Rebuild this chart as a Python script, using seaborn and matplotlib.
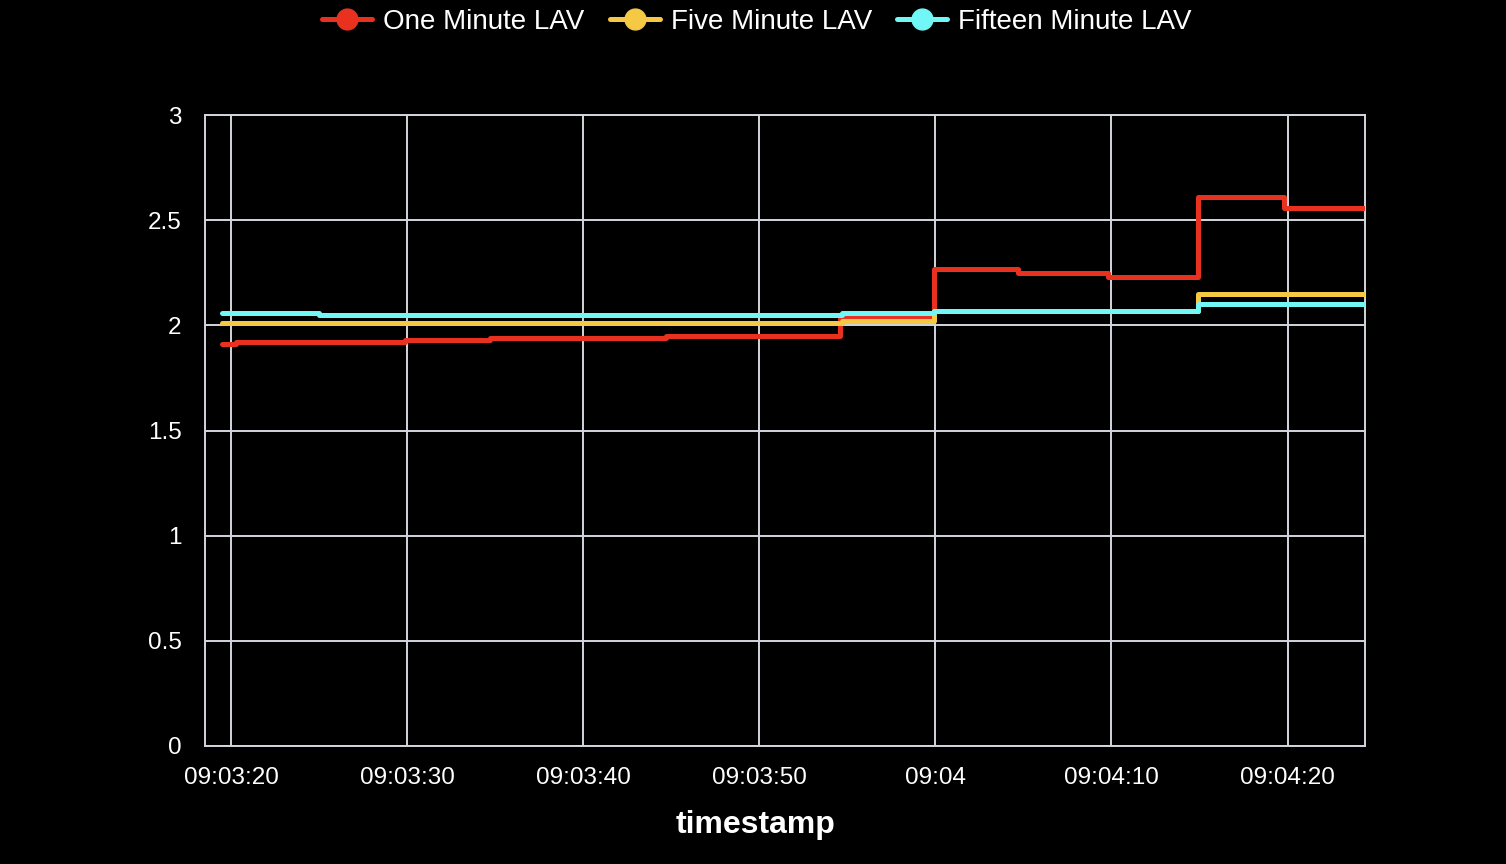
import pandas as pd
import numpy as np
import matplotlib
matplotlib.use("Agg")
import matplotlib.pyplot as plt
import matplotlib.dates as mdates
from matplotlib.lines import Line2D
import seaborn as sns

# readings: seconds after 09:03:00 where the value changes, and the value
one_t = [19.5, 20.3, 29.9, 34.7, 44.7, 54.6, 59.9, 64.7, 69.8, 74.9, 79.8, 84.5]
one_v = [1.91, 1.92, 1.93, 1.94, 1.95, 2.04, 2.27, 2.25, 2.23, 2.61, 2.56, 2.56]
five_t = [19.5, 54.7, 59.9, 74.9, 84.5]
five_v = [2.01, 2.02, 2.07, 2.15, 2.15]
fifteen_t = [19.5, 25.0, 54.7, 59.9, 74.9, 84.5]
fifteen_v = [2.06, 2.05, 2.06, 2.07, 2.10, 2.10]

names = ["One Minute LAV", "Five Minute LAV", "Fifteen Minute LAV"]
colors = ["#e8321f", "#f6c945", "#72f7f7"]

base = pd.Timestamp("2024-01-01 09:03:00")
rows = []
for name, ts, vs in zip(names, [one_t, five_t, fifteen_t], [one_v, five_v, fifteen_v]):
    for t, v in zip(ts, vs):
        rows.append({"timestamp": base + pd.Timedelta(seconds=t), "value": v, "series": name})
df = pd.DataFrame(rows)

sns.set_style("dark")
plt.rcParams["font.family"] = ["Liberation Sans", "DejaVu Sans"]

fig = plt.figure(figsize=(15.06, 8.64), dpi=100, facecolor="black")
ax = fig.add_axes([205 / 1506, 118 / 864, 1160 / 1506, 631 / 864])
ax.set_facecolor("black")

sns.lineplot(data=df, x="timestamp", y="value", hue="series", palette=colors,
             hue_order=names, drawstyle="steps-post", linewidth=3.6,
             solid_joinstyle="round", solid_capstyle="round", legend=False, ax=ax, zorder=3)

gridc = "#d4d6de"
ax.set_xlim(base + pd.Timedelta(seconds=18.52), base + pd.Timedelta(seconds=84.4))
ax.set_ylim(0, 3)
ax.set_yticks([0, 0.5, 1, 1.5, 2, 2.5, 3])
ax.set_yticklabels(["0", "0.5", "1", "1.5", "2", "2.5", "3"])
ax.xaxis.set_major_locator(mdates.SecondLocator(bysecond=[0, 10, 20, 30, 40, 50]))


def fmt(x, pos=None):
    d = mdates.num2date(x)
    return d.strftime("%H:%M") if d.second == 0 else d.strftime("%H:%M:%S")


ax.xaxis.set_major_formatter(plt.FuncFormatter(fmt))
ax.grid(True, color=gridc, linewidth=1.4)
for s in ax.spines.values():
    s.set_color(gridc)
    s.set_linewidth(1.4)
ax.tick_params(axis="x", colors=gridc, length=8, width=1.4, labelcolor="white",
               labelsize=17.5, pad=7)
ax.tick_params(axis="y", length=0, labelcolor="white", labelsize=17.5, pad=17)
ax.set_xlabel("timestamp", color="white", fontsize=23, fontweight="bold", labelpad=14)
ax.xaxis.set_label_coords((756 - 205) / 1160, -0.102)
ax.set_ylabel("")

handles = [Line2D([0], [0], color=c, lw=3.6, marker="o", markersize=15) for c in colors]
leg = fig.legend(handles, names, loc="center", bbox_to_anchor=(757 / 1506, 1 - 22 / 864),
                 ncol=3, frameon=False, fontsize=20, labelcolor="white",
                 handlelength=1.8, handletextpad=0.4, columnspacing=0.9)

fig.savefig("out.png", dpi=100, facecolor="black")
